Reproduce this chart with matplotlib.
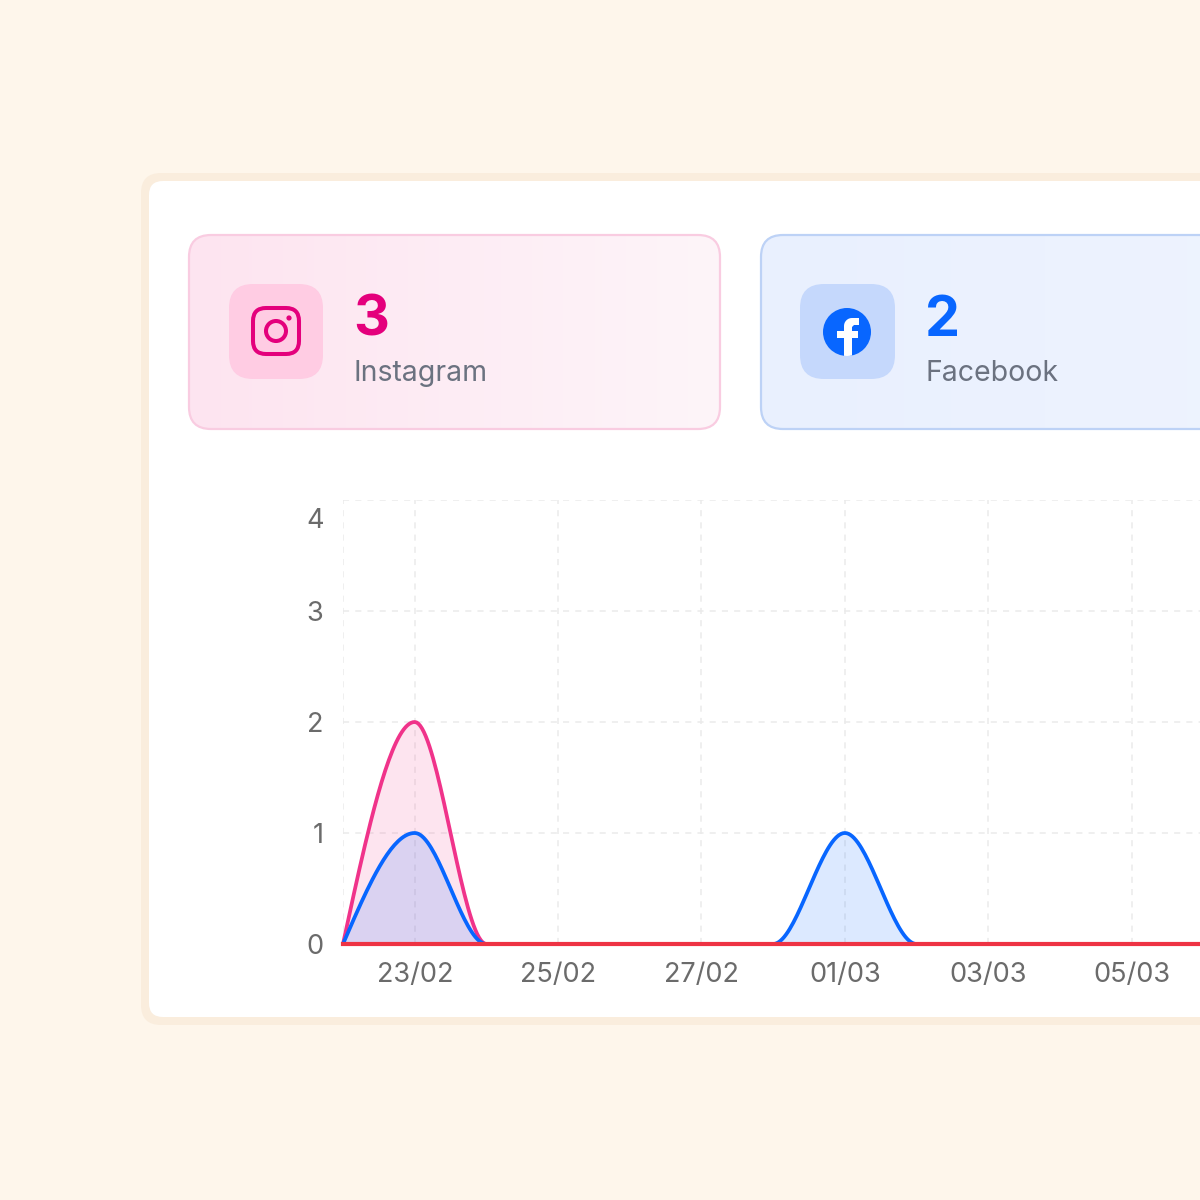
import numpy as np
import matplotlib
matplotlib.use("Agg")
import matplotlib.pyplot as plt
from matplotlib.patches import FancyBboxPatch, Circle, Polygon, Rectangle
from matplotlib.transforms import ScaledTranslation

plt.rcParams["font.family"] = ["Inter", "DejaVu Sans"]

# daily data, 22/02 .. 07/03
dates = ["22/02", "23/02", "24/02", "25/02", "26/02", "27/02", "28/02",
         "01/03", "02/03", "03/03", "04/03", "05/03", "06/03", "07/03"]
instagram = [0, 2, 0, 0, 0, 0, 0, 0, 0, 0, 0, 0, 0, 0]
facebook = [0, 1, 0, 0, 0, 0, 0, 1, 0, 0, 0, 0, 0, 0]
youtube = [0, 0, 0, 0, 0, 0, 0, 0, 0, 0, 0, 0, 0, 0]
totals = {"Instagram": 3, "Facebook": 2}
y_ticks = [0, 1, 2, 3, 4]
x_labels = ["23/02", "25/02", "27/02", "01/03", "03/03", "05/03"]

BG = "#FEF6EB"
PINK = "#F0338A"
PINK_DARK = "#E4007C"
BLUE = "#0866FF"
RED = "#EE3344"
GRAY = "#6B7280"


def monotone(x, y, n=40):
    """Monotone cubic curve like d3.curveMonotoneX (for smooth drawing only)."""
    x = np.asarray(x, float)
    y = np.asarray(y, float)
    h = np.diff(x)
    s = np.diff(y) / h
    sg = lambda v: -1.0 if v < 0 else 1.0
    t = np.zeros_like(y)
    for i in range(1, len(y) - 1):
        p = (s[i - 1] * h[i] + s[i] * h[i - 1]) / (h[i - 1] + h[i])
        t[i] = (sg(s[i - 1]) + sg(s[i])) * min(abs(s[i - 1]), abs(s[i]), 0.5 * abs(p))
    t[0] = (3 * s[0] - t[1]) / 2
    t[-1] = (3 * s[-1] - t[-2]) / 2
    xs, ys = [], []
    u = np.linspace(0, 1, n)
    for i in range(len(y) - 1):
        h00 = 2 * u**3 - 3 * u**2 + 1
        h10 = u**3 - 2 * u**2 + u
        h01 = -2 * u**3 + 3 * u**2
        h11 = u**3 - u**2
        xs.append(x[i] + u * h[i])
        ys.append(h00 * y[i] + h10 * h[i] * t[i] + h01 * y[i + 1] + h11 * h[i] * t[i + 1])
    return np.concatenate(xs), np.concatenate(ys)


fig = plt.figure(figsize=(12, 12), dpi=100, facecolor=BG)

# background layer in pixel coordinates
bg = fig.add_axes([0, 0, 1, 1])
bg.set_axis_off()


def rbox(x0, y0, x1, y1, r, **kw):
    p = FancyBboxPatch((x0, y0), x1 - x0, y1 - y0,
                       boxstyle=f"round,pad=0,rounding_size={r}", **kw)
    bg.add_patch(p)
    return p


def gradient_card(x0, y0, x1, y1, r, c_left, c_right, edge):
    clip = rbox(x0, y0, x1, y1, r, facecolor="none", edgecolor="none")
    c0 = np.array(matplotlib.colors.to_rgb(c_left))
    c1 = np.array(matplotlib.colors.to_rgb(c_right))
    g = np.linspace(0, 1, 256)[None, :, None]
    img = c0 + (c1 - c0) * g
    im = bg.imshow(img, extent=(x0, x1, y1, y0), aspect="auto", zorder=1)
    im.set_clip_path(clip)
    rbox(x0, y0, x1, y1, r, facecolor="none", edgecolor=edge, lw=1.6, zorder=2)


# outer card
rbox(141, 173, 1330, 1025, 20, facecolor="#FAEDDD", edgecolor="none", zorder=0)
rbox(149, 181, 1330, 1017, 14, facecolor="white", edgecolor="none", zorder=0.5)

# Instagram card
gradient_card(189, 235, 720, 429, 22, "#FDE4F0", "#FEF5F9", "#F9CCE1")
rbox(229, 284, 323, 379, 24, facecolor="#FFCCE3", edgecolor="none", zorder=3)
rbox(253, 308, 299, 354, 13, facecolor="none", edgecolor=PINK_DARK, lw=2.9, zorder=4)
bg.add_patch(Circle((276, 331), 10, facecolor="none", edgecolor=PINK_DARK, lw=2.9, zorder=4))
bg.add_patch(Circle((289, 318), 2.6, facecolor=PINK_DARK, edgecolor="none", zorder=4))
bg.text(353, 336, str(totals["Instagram"]), fontsize=40, fontweight="bold",
        color=PINK_DARK, va="baseline", ha="left", zorder=4)
bg.text(353, 381, "Instagram", fontsize=20.5, color=GRAY, va="baseline", ha="left", zorder=4)

# Facebook card
gradient_card(761, 235, 1330, 429, 22, "#E9F0FE", "#EFF4FF", "#BDD2F6")
rbox(800, 284, 895, 379, 24, facecolor="#C5D8FC", edgecolor="none", zorder=3)
fb = Circle((847, 332), 24, facecolor=BLUE, edgecolor="none", zorder=4)
bg.add_patch(fb)
arc = np.linspace(np.pi, 1.5 * np.pi, 12)
hook = [(844, 362), (844, 326)]
hook += [(852 + 8 * np.cos(a), 326 + 8 * np.sin(a)) for a in arc]
hook += [(859, 318), (859, 325), (854, 325), (852, 327), (852, 362)]
fpoly = Polygon(hook, closed=True, facecolor="white", edgecolor="none", zorder=5)
bg.add_patch(fpoly)
fpoly.set_clip_path(fb)
bar = Rectangle((837, 331), 21, 7, facecolor="white", edgecolor="none", zorder=5)
bg.add_patch(bar)
bg.text(925, 336, str(totals["Facebook"]), fontsize=40, fontweight="bold",
        color=BLUE, va="baseline", ha="left", zorder=4)
bg.text(925, 381, "Facebook", fontsize=20.5, color=GRAY, va="baseline", ha="left", zorder=4)

bg.set_xlim(0, 1200)
bg.set_ylim(1200, 0)

# chart
ax = fig.add_axes([343 / 1200, 256 / 1200, 932 / 1200, 444 / 1200])
ax.set_facecolor("none")
for sp in ax.spines.values():
    sp.set_visible(False)

x = np.arange(len(dates))
label_idx = [dates.index(d) for d in x_labels]
grid_kw = dict(color="#EBEBEB", lw=1.1, ls=(0, (4, 4)), zorder=0)
for yv in y_ticks[1:]:
    ax.axhline(yv, **grid_kw)
for xi in [0] + label_idx:
    ax.axvline(xi, **grid_kw)

xi_s, ig_s = monotone(x, instagram)
_, fb_s = monotone(x, facebook)
_, yt_s = monotone(x, youtube)

ax.fill_between(xi_s, 0, ig_s, color=PINK, alpha=0.13, lw=0, zorder=1)
ax.fill_between(xi_s, 0, fb_s, color=BLUE, alpha=0.14, lw=0, zorder=2)
ax.plot(xi_s, ig_s, color=PINK, lw=2.7, zorder=3, clip_on=False, solid_capstyle="round")
ax.plot(xi_s, fb_s, color=BLUE, lw=2.7, zorder=4, clip_on=False, solid_capstyle="round")
ax.plot(xi_s, yt_s, color=RED, lw=3.0, zorder=5, clip_on=False)

ax.set_xlim(0, len(dates) - 1)
ax.set_ylim(0, 4)
ax.set_xticks(label_idx)
ax.set_xticklabels(x_labels)
ax.set_yticks(y_ticks)
ax.set_yticklabels([str(v) for v in y_ticks])
ax.tick_params(axis="both", length=0, labelsize=19.5, labelcolor="#6B6B6B")
ax.tick_params(axis="x", pad=13)
ax.tick_params(axis="y", pad=14)
top = ax.get_yticklabels()[-1]
top.set_transform(top.get_transform() + ScaledTranslation(0, -0.18, fig.dpi_scale_trans))

fig.savefig("out.png", dpi=100, facecolor=BG)
